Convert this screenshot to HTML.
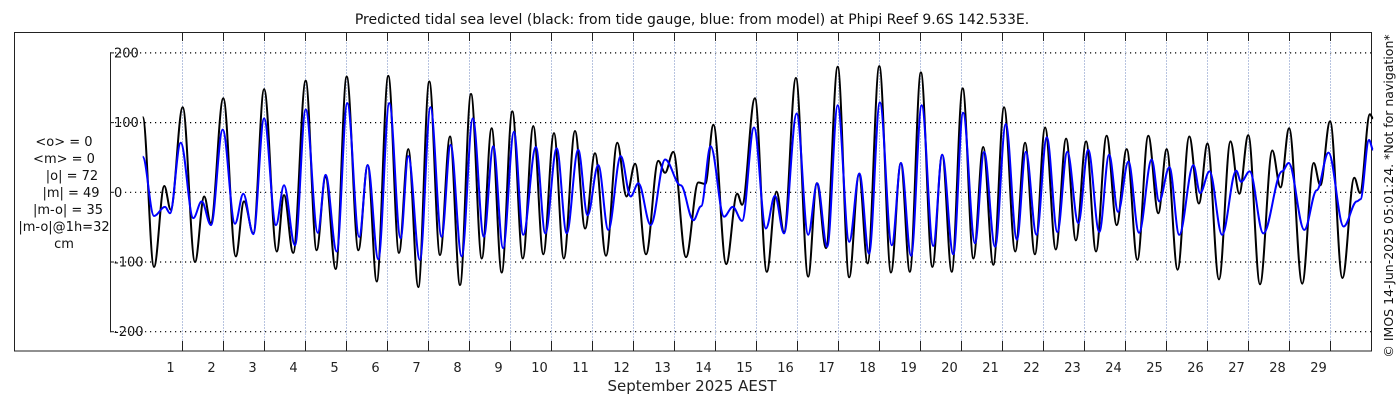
<!DOCTYPE html>
<html><head><meta charset="utf-8"><style>
html,body{margin:0;padding:0;background:#fff;}
svg{display:block;font-family:"DejaVu Sans","Liberation Sans",sans-serif;}
</style></head><body>
<svg id="chart" width="1400" height="400" viewBox="0 0 1400 400">
<text x="692" y="24" font-size="14" text-anchor="middle" fill="#111">Predicted tidal sea level (black: from tide gauge, blue: from model) at Phipi Reef 9.6S 142.533E.</text>
<rect x="14.5" y="32.5" width="1357" height="318.5" fill="none" stroke="#222" stroke-width="1"/>
<g id="grid"></g>
<g id="yaxis"></g>
<g id="xaxis"></g>
<g id="series"></g>
<g font-size="13" fill="#111" text-anchor="middle">
<text x="64" y="146">&lt;o&gt; = 0</text>
<text x="64" y="163">&lt;m&gt; = 0</text>
<text x="72" y="180">|o| = 72</text>
<text x="71" y="197">|m| = 49</text>
<text x="68" y="214">|m-o| = 35</text>
<text x="64" y="231">|m-o|@1h=32</text>
<text x="64" y="248">cm</text>
</g>
<text x="692" y="391" font-size="15" text-anchor="middle" fill="#222">September 2025 AEST</text>
<text transform="translate(1393,196) rotate(-90)" font-size="12.5" text-anchor="middle" fill="#111">© IMOS 14-Jun-2025 05:01:24. *Not for navigation*</text>
</svg>
<script>
// observed (black) extrema: time in days, value in cm
const obsT = [0.03,0.305,0.556,0.712,1.005,1.305,1.53,1.69,1.995,2.30,2.50,2.727,2.99,3.30,3.475,3.70,4.005,4.27,4.49,4.737,5.005,5.29,5.517,5.737,6.02,6.28,6.507,6.75,7.02,7.28,7.524,7.768,8.037,8.30,8.54,8.785,9.044,9.30,9.556,9.80,10.06,10.30,10.573,10.82,11.06,11.33,11.605,11.83,12.04,12.305,12.605,12.77,12.97,13.28,13.58,13.75,13.95,14.26,14.53,14.65,14.96,15.25,15.49,15.67,15.96,16.26,16.47,16.695,16.98,17.26,17.50,17.71,17.995,18.28,18.52,18.74,19.01,19.29,19.53,19.76,20.03,20.29,20.53,20.775,21.04,21.31,21.55,21.79,22.04,22.30,22.55,22.79,23.04,23.28,23.54,23.785,24.03,24.29,24.555,24.80,25.005,25.27,25.555,25.79,26.0,26.28,26.56,26.775,26.995,27.28,27.58,27.78,27.99,28.31,28.59,28.75,28.99,29.29,29.58,29.72,29.96,30.04];
const obsV = [108,-107,9,-25,122,-100,-6,-44,135,-92,-13,-59,148,-85,-4,-87,160,-83,22,-110,166,-83,39,-128,167,-87,62,-136,159,-90,80,-133,141,-95,92,-115,116,-95,95,-89,85,-95,88,-52,56,-91,71,-6,41,-89,45,28,58,-93,14,12,97,-103,-2,-18,135,-114,1,-57,164,-121,13,-80,180,-122,26,-102,181,-115,42,-114,172,-107,54,-114,149,-95,65,-104,122,-85,71,-89,93,-82,77,-69,73,-85,81,-47,62,-97,81,-30,62,-111,80,-16,70,-125,73,-2,82,-132,60,7,92,-131,42,10,102,-123,21,-1,112,106];
// model (blue) extrema
const modT = [0.03,0.305,0.573,0.695,0.956,1.263,1.468,1.695,1.98,2.28,2.483,2.727,2.99,3.28,3.475,3.744,4.005,4.30,4.49,4.76,5.02,5.31,5.517,5.776,6.044,6.32,6.507,6.79,7.05,7.32,7.54,7.81,8.08,8.35,8.58,8.82,9.085,9.31,9.62,9.85,10.127,10.37,10.65,10.88,11.14,11.385,11.69,11.93,12.12,12.42,12.77,13.15,13.46,13.65,13.88,14.21,14.42,14.65,14.94,15.23,15.45,15.67,15.98,16.26,16.48,16.725,16.98,17.26,17.51,17.745,18.01,18.30,18.525,18.77,19.03,19.31,19.53,19.80,20.04,20.33,20.55,20.82,21.08,21.35,21.57,21.83,22.08,22.34,22.58,22.85,23.09,23.36,23.60,23.82,24.07,24.33,24.64,24.82,25.07,25.31,25.655,25.82,26.05,26.355,26.70,26.82,27.03,27.36,27.82,27.98,28.36,28.665,28.95,29.32,29.645,29.73,29.94,30.04];
const modV = [51,-34,-21,-30,71,-37,-13,-47,90,-45,-2,-60,106,-47,10,-76,119,-58,25,-85,128,-64,39,-96,128,-66,52,-97,122,-64,68,-92,106,-64,66,-80,87,-61,65,-59,63,-59,61,-33,39,-54,52,-6,13,-47,47,10,-40,-20,66,-35,-21,-41,93,-52,-5,-59,113,-61,13,-78,125,-71,27,-88,129,-76,42,-91,125,-77,54,-89,114,-73,58,-78,98,-68,58,-61,79,-57,58,-44,61,-57,54,-28,44,-58,47,-13,36,-61,39,-1,30,-61,31,15,30,-59,30,42,-54,3,57,-49,-13,-10,75,61];
const yTicks = [200,100,0,-100,-200];
const dayLabels = [1,2,3,4,5,6,7,8,9,10,11,12,13,14,15,16,17,18,19,20,21,22,23,24,25,26,27,28,29];

const NS='http://www.w3.org/2000/svg';
const X0=182.5, DX=41.0, Y0=192.3, KY=0.697;
function xs(t){return X0+(t-1)*DX;}
function ys(v){return Y0-v*KY;}
function mk(tag,attrs,parent){const e=document.createElementNS(NS,tag);for(const k in attrs)e.setAttribute(k,attrs[k]);parent.appendChild(e);return e;}

const grid=document.getElementById('grid'), yaxis=document.getElementById('yaxis'), xaxis=document.getElementById('xaxis'), series=document.getElementById('series');
for(const v of yTicks){
  const l=mk('line',{x1:110,x2:1371,y1:ys(v),y2:ys(v),stroke:'#000','stroke-width':1.2,'stroke-dasharray':'1.2,3.8'},grid);
  
  
  const tk=mk('line',{x1:110,x2:114,y1:ys(v),y2:ys(v),stroke:'#222'},yaxis);
  
  
  const tx=mk('text',{x:114,y:ys(v)+4.5,'font-size':13,fill:'#111'},yaxis);
  tx.textContent=String(v);
  
  
}
const ax=mk('line',{x1:110.5,x2:110.5,y1:ys(200),y2:ys(-200),stroke:'#222'},yaxis);


for(const d of dayLabels){
  const gx=xs(d);
  const g=mk('line',{x1:gx,x2:gx,y1:33,y2:350,stroke:'#b8c4e0','stroke-width':1,'stroke-dasharray':'2,1'},grid);
  
  
  const t1=mk('line',{x1:gx,x2:gx,y1:33,y2:41,stroke:'#222'},xaxis);
  
  
  const t2=mk('line',{x1:gx,x2:gx,y1:341,y2:351,stroke:'#222'},xaxis);
  
  
  const lb=mk('text',{x:gx-12,y:372,'font-size':13,'text-anchor':'middle',fill:'#222'},xaxis);
  lb.textContent=String(d);
  
  
}
function pathFor(T,V){
  let d='M'+xs(T[0]).toFixed(1)+','+ys(V[0]).toFixed(1);
  for(let i=1;i<T.length;i++){
    const x0=xs(T[i-1]),y0=ys(V[i-1]),x1=xs(T[i]),y1=ys(V[i]),c=(x1-x0)*0.36;
    d+=' C'+(x0+c).toFixed(1)+','+y0.toFixed(1)+' '+(x1-c).toFixed(1)+','+y1.toFixed(1)+' '+x1.toFixed(1)+','+y1.toFixed(1);
  }
  return d;
}
const pObs=mk('path',{d:pathFor(obsT,obsV),fill:'none',stroke:'#000','stroke-width':2},series);


const pMod=mk('path',{d:pathFor(modT,modV),fill:'none',stroke:'#0000ff','stroke-width':2},series);


</script>
</body></html>
